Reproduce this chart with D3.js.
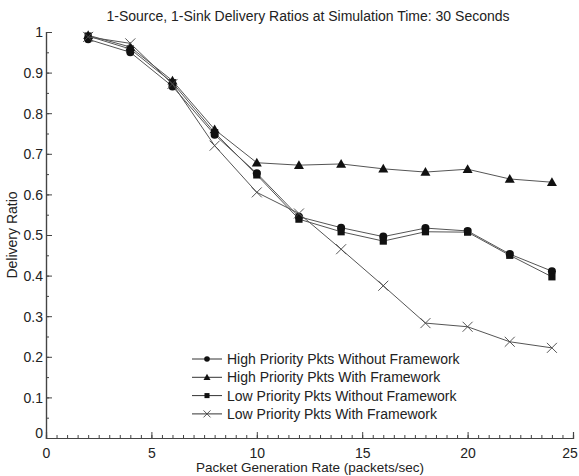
<!DOCTYPE html>
<html>
<head>
<meta charset="utf-8">
<script src="https://cdn.jsdelivr.net/npm/d3@7"></script>
<style>
  body { margin: 0; background: #fff; }
  text { font-family: "Liberation Sans", Arial, sans-serif; fill: #222; }
</style>
</head>
<body>
<div id="chart"></div>
<script>
var rates = [2, 4, 6, 8, 10, 12, 14, 16, 18, 20, 22, 24];

var highWithout = [0.982, 0.950, 0.866, 0.747, 0.652, 0.545, 0.518, 0.496, 0.517, 0.510, 0.453, 0.411];
var highWith    = [0.992, 0.963, 0.880, 0.760, 0.678, 0.672, 0.675, 0.663, 0.655, 0.662, 0.638, 0.630];
var lowWithout  = [0.990, 0.958, 0.875, 0.752, 0.648, 0.539, 0.508, 0.485, 0.508, 0.507, 0.450, 0.397];
var lowWith     = [0.988, 0.972, 0.872, 0.720, 0.605, 0.553, 0.465, 0.375, 0.283, 0.274, 0.237, 0.222];

var seriesNames = [
    "High Priority Pkts Without Framework",
    "High Priority Pkts With Framework",
    "Low Priority Pkts Without Framework",
    "Low Priority Pkts With Framework"
];
var seriesMarks = ["circle", "triangle", "square", "cross"];
var seriesValues = [highWithout, highWith, lowWithout, lowWith];

var xTicks = [0, 5, 10, 15, 20, 25];
var yTicks = [0, 0.1, 0.2, 0.3, 0.4, 0.5, 0.6, 0.7, 0.8, 0.9, 1];

var width = 579, height = 476;
var margin = {left: 46, right: 6, top: 32, bottom: 38};

var svg = d3.select("#chart").append("svg")
    .attr("width", width)
    .attr("height", height);

var x = d3.scaleLinear().domain([0, 25]).range([margin.left, width - margin.right]);
var y = d3.scaleLinear().domain([0, 1]).range([height - margin.bottom, margin.top]);

var axisColor = "#444";

// minor ticks
var xAxisMinor = d3.axisBottom(x).tickValues(d3.range(0, 25.01, 0.5)).tickSize(-3).tickFormat("");
var yAxisMinor = d3.axisLeft(y).tickValues(d3.range(0, 1.001, 0.05)).tickSize(-3).tickFormat("");
svg.append("g").attr("transform", "translate(0," + y(0) + ")").call(xAxisMinor);
svg.append("g").attr("transform", "translate(" + x(0) + ",0)").call(yAxisMinor);

var xAxis = d3.axisBottom(x).tickValues(xTicks).tickSize(-6).tickPadding(8).tickFormat(d3.format("d"));
var yAxis = d3.axisLeft(y).tickValues(yTicks).tickSize(-6).tickPadding(3)
    .tickFormat(function(d) { return d === 0 || d === 1 ? d3.format("d")(d) : d3.format(".1f")(d); });
var gx = svg.append("g").attr("transform", "translate(0," + y(0) + ")").call(xAxis);
var gy = svg.append("g").attr("transform", "translate(" + x(0) + ",0)").call(yAxis);

svg.selectAll(".domain").attr("stroke", axisColor).attr("stroke-width", 1.2);
svg.selectAll(".tick line").attr("stroke", axisColor);
svg.selectAll(".tick text").style("font-size", "14px").attr("fill", "#222");
gx.selectAll(".tick text").attr("dy", "0.85em");
gy.selectAll(".tick text").attr("dy", "0.35em");
gy.selectAll(".tick").filter(function(d) { return d === 0; }).select("text").attr("dy", "-0.05em");
// keep the last x label inside the page
gx.selectAll(".tick").filter(function(d) { return d === 25; }).select("text").attr("dx", "-0.25em");

// axis titles
svg.append("text")
    .attr("x", 310).attr("y", 472)
    .attr("text-anchor", "middle")
    .style("font-size", "13.5px")
    .text("Packet Generation Rate (packets/sec)");

svg.append("text")
    .attr("transform", "translate(17," + y(0.5) + ") rotate(-90)")
    .attr("text-anchor", "middle")
    .style("font-size", "14px")
    .text("Delivery Ratio");

svg.append("text")
    .attr("x", 308).attr("y", 21)
    .attr("text-anchor", "middle")
    .style("font-size", "14px")
    .text("1-Source, 1-Sink Delivery Ratios at Simulation Time: 30 Seconds");

function drawMarker(g, kind, cx, cy, s) {
    if (kind === "circle") {
        g.append("circle").attr("cx", cx).attr("cy", cy).attr("r", 4 * s).attr("fill", "#111");
    } else if (kind === "triangle") {
        var h = 5 * s;
        g.append("path")
            .attr("d", "M" + cx + "," + (cy - h) + "L" + (cx + h) + "," + (cy + h * 0.75) + "L" + (cx - h) + "," + (cy + h * 0.75) + "Z")
            .attr("fill", "#111");
    } else if (kind === "square") {
        var a = 3.6 * s;
        g.append("rect").attr("x", cx - a).attr("y", cy - a).attr("width", 2 * a).attr("height", 2 * a).attr("fill", "#111");
    } else {
        var c = 5 * s;
        g.append("path")
            .attr("d", "M" + (cx - c) + "," + (cy - c) + "L" + (cx + c) + "," + (cy + c) + "M" + (cx - c) + "," + (cy + c) + "L" + (cx + c) + "," + (cy - c))
            .attr("stroke", "#444").attr("stroke-width", 0.9).attr("fill", "none");
    }
}

var line = d3.line()
    .x(function(d) { return x(d.rate); })
    .y(function(d) { return y(d.value); });

seriesValues.forEach(function(values, i) {
    var pts = rates.map(function(r, j) { return {rate: r, value: values[j]}; });
    var g = svg.append("g");
    g.append("path")
        .datum(pts)
        .attr("d", line)
        .attr("fill", "none")
        .attr("stroke", "#555")
        .attr("stroke-width", 1);
    pts.forEach(function(p) {
        drawMarker(g, seriesMarks[i], x(p.rate), y(p.value), 1);
    });
});

// legend
var legend = svg.append("g");
seriesNames.forEach(function(name, i) {
    var ly = 359 + i * 18.3;
    legend.append("line")
        .attr("x1", 192).attr("x2", 222)
        .attr("y1", ly).attr("y2", ly)
        .attr("stroke", "#333").attr("stroke-width", 1);
    drawMarker(legend, seriesMarks[i], 207, ly, 0.7);
    legend.append("text")
        .attr("x", 227).attr("y", ly)
        .attr("dy", "0.35em")
        .style("font-size", "14px")
        .text(name);
});
</script>
</body>
</html>
